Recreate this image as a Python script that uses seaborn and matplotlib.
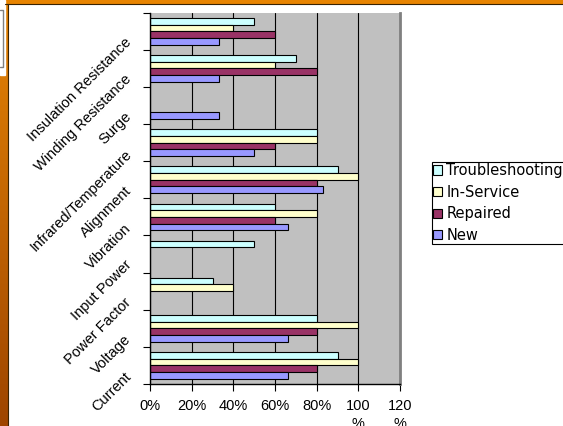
import numpy as np
import pandas as pd
import matplotlib
matplotlib.use("Agg")
import matplotlib.pyplot as plt
import seaborn as sns
from matplotlib.patches import Patch, Rectangle
from matplotlib.lines import Line2D
from matplotlib.transforms import ScaledTranslation

# Test categories, listed top to bottom as they appear on the chart
categories = [
    "Insulation Resistance",
    "Winding Resistance",
    "Surge",
    "Infrared/Temperature",
    "Alignment",
    "Vibration",
    "Input Power",
    "Power Factor",
    "Voltage",
    "Current",
]
series_names = ["Troubleshooting", "In-Service", "Repaired", "New"]

# Percent of applications using each test (NaN = not used)
troubleshooting = [50, 70, np.nan, 80, 90, 60, 50, 30, 80, 90]
in_service = [40, 60, np.nan, 80, 100, 80, np.nan, 40, 100, 100]
repaired = [60, 80, np.nan, 60, 80, 60, np.nan, np.nan, 80, 80]
new = [33, 33, 33, 50, 83, 66, np.nan, np.nan, 66, 66]

x_ticks = [0, 20, 40, 60, 80, 100, 120]
x_tick_labels = ["0%", "20%", "40%", "60%", "80%", "100\n%", "120\n%"]

colors = {
    "Troubleshooting": "#CCFFFF",
    "In-Service": "#FFFFCC",
    "Repaired": "#993366",
    "New": "#9999FF",
}

W, H, DPI = 563, 426, 100

sns.set_theme(style="white")
plt.rcParams["font.family"] = ["Liberation Sans", "DejaVu Sans"]
plt.rcParams["text.color"] = "black"
plt.rcParams["xtick.color"] = "black"
plt.rcParams["ytick.color"] = "black"

values = {
    "Troubleshooting": troubleshooting,
    "In-Service": in_service,
    "Repaired": repaired,
    "New": new,
}
frames = [
    pd.DataFrame({"test": categories, "series": name, "pct": vals})
    for name, vals in values.items()
]
long = pd.concat(frames, ignore_index=True).dropna()

fig = plt.figure(figsize=(W / DPI, H / DPI), dpi=DPI)
fig.patch.set_facecolor("white")

ax = fig.add_axes([150 / W, 1 - 384 / H, 250 / W, (384 - 12.7) / H])
sns.barplot(
    data=long, y="test", x="pct", hue="series",
    order=categories, hue_order=series_names, palette=colors,
    width=0.72, orient="h", errorbar=None, saturation=1,
    edgecolor="black", linewidth=0.8, legend=False, ax=ax,
)

ax.set_facecolor("#C0C0C0")
ax.set_xlim(0, 120)
ax.set_ylim(9.5, -0.5)
ax.set_axisbelow(True)
ax.xaxis.grid(True, color="black", linewidth=0.8)
ax.yaxis.grid(False)
ax.set_xlabel("")
ax.set_ylabel("")

for side in ("left", "bottom"):
    ax.spines[side].set_visible(True)
    ax.spines[side].set_color("black")
    ax.spines[side].set_linewidth(1.0)
ax.spines["top"].set_visible(False)
ax.spines["right"].set_visible(True)
ax.spines["right"].set_color("#808080")
ax.spines["right"].set_linewidth(2.0)

ax.set_xticks(x_ticks)
ax.set_xticklabels(x_tick_labels, fontsize=10.5, linespacing=1.3)
ax.tick_params(axis="x", bottom=True, direction="out", length=5,
               width=0.8, color="black", labelcolor="black", pad=6)

ax.set_yticks(range(len(categories)))
ax.set_yticklabels(categories, fontsize=10.5, rotation=45,
                   ha="right", va="center", rotation_mode="anchor")
ax.set_yticks(np.arange(-0.5, len(categories), 1), minor=True)
ax.tick_params(axis="y", which="major", left=True, length=0, pad=15,
               labelcolor="black")
ax.tick_params(axis="y", which="minor", left=True, length=5,
               width=0.8, color="black")
shift = ScaledTranslation(0, -9 / DPI, fig.dpi_scale_trans)
for lab in ax.get_yticklabels():
    lab.set_transform(lab.get_transform() + shift)

# Legend
handles = [Patch(facecolor=colors[n], edgecolor="black", linewidth=0.8)
           for n in series_names]
leg = fig.legend(
    handles, series_names, loc="upper left",
    bbox_to_anchor=(432 / W, 1 - 162 / H), bbox_transform=fig.transFigure,
    frameon=True, fancybox=False, edgecolor="black", framealpha=1,
    borderaxespad=0, borderpad=0.08, handlelength=0.6, handleheight=0.6,
    handletextpad=0.3, labelspacing=0.45,
    prop={"family": "DejaVu Sans", "size": 10.5},
)
leg.get_frame().set_linewidth(0.8)
for t in leg.get_texts():
    t.set_color("black")

# Slide frame: orange gradient band on the left, orange strip on top
band = fig.add_axes([0, 0, 7.5 / W, 1])
grad = np.linspace(0, 1, 256)[:, None]
top_c = np.array([0.90, 0.52, 0.02])
bot_c = np.array([0.62, 0.27, 0.0])
img = (top_c[None, None, :] * (1 - grad[..., None]) + bot_c[None, None, :] * grad[..., None])
band.imshow(img, aspect="auto", extent=[0, 1, 0, 1])
band.set_axis_off()

fig.patches.append(Rectangle((5 / W, 1 - 3.2 / H), 1, 3.2 / H,
                             transform=fig.transFigure, color="#E88400", zorder=5))
fig.lines.append(Line2D([5 / W, 1], [1 - 3.6 / H] * 2, transform=fig.transFigure,
                        color="#3A2200", linewidth=0.8, zorder=6))
fig.lines.append(Line2D([7.6 / W] * 2, [0, 1 - 3.6 / H], transform=fig.transFigure,
                        color="#3A2200", linewidth=0.8, zorder=6))
fig.patches.append(Rectangle((0, 1 - 75 / H), 5 / W, 75 / H,
                             transform=fig.transFigure, color="white", zorder=5))
fig.lines.append(Line2D([0, 2.5 / W, 2.5 / W, 0],
                        [1 - 10 / H, 1 - 10 / H, 1 - 67 / H, 1 - 67 / H],
                        transform=fig.transFigure, color="#808080",
                        linewidth=1.0, zorder=6))

fig.savefig("out.png", dpi=DPI)
